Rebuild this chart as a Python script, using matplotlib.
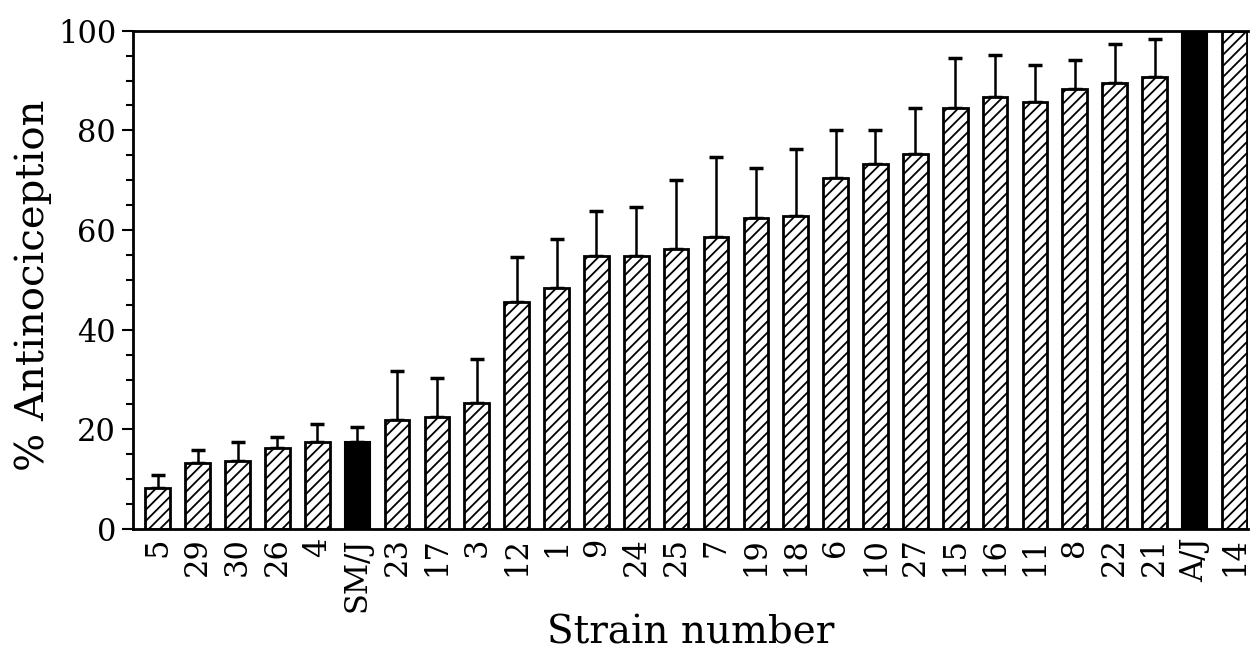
import matplotlib
matplotlib.use("Agg")
import matplotlib.pyplot as plt
import numpy as np

strains = ["5", "29", "30", "26", "4", "SM/J", "23", "17", "3", "12", "1", "9", "24", "25",
           "7", "19", "18", "6", "10", "27", "15", "16", "11", "8", "22", "21", "A/J", "14"]
means = [8.2, 13.2, 13.6, 16.3, 17.5, 17.5, 21.9, 22.4, 25.3, 45.6, 48.4, 54.8, 54.8, 56.3,
         58.6, 62.4, 62.9, 70.5, 73.3, 75.3, 84.5, 86.7, 85.7, 88.4, 89.6, 90.8, 100.0, 100.0]
errors = [2.6, 2.7, 3.8, 2.2, 3.6, 3.0, 9.9, 7.9, 8.9, 9.0, 9.9, 9.0, 9.9, 13.8,
          16.1, 10.1, 13.4, 9.6, 6.8, 9.2, 10.0, 8.5, 7.5, 5.8, 7.8, 7.6, 0.0, 0.0]
parental = ["SM/J", "A/J"]

plt.rcParams['font.family'] = ['DejaVu Serif']
plt.rcParams['hatch.linewidth'] = 1.3

fig = plt.figure(figsize=(12.52, 6.54), dpi=100)
ax = fig.add_axes([0.106, 0.191, 0.891, 0.762])

x = np.arange(len(strains))
for xi, s, m in zip(x, strains, means):
    if s in parental:
        ax.bar(xi, m, width=0.62, color='black', edgecolor='black', linewidth=1.5, zorder=2)
    else:
        ax.bar(xi, m, width=0.62, color='white', edgecolor='black', hatch='///',
               linewidth=2.0, zorder=2)

ax.errorbar(x, means, yerr=[np.zeros(len(errors)), errors], fmt='none', ecolor='black',
            elinewidth=1.8, capsize=5, capthick=2.5, zorder=1)

ax.set_xlim(-0.63, 27.35)
ax.set_ylim(0, 100)
ax.set_yticks([0, 20, 40, 60, 80, 100])
ax.set_yticks(np.arange(0, 101, 5), minor=True)
ax.set_xticks(x)
ax.set_xticklabels(strains, rotation=90, fontsize=22)
ax.tick_params(axis='x', length=0, pad=6)
ax.tick_params(axis='y', which='major', length=8, width=1.5, labelsize=22, pad=4)
ax.tick_params(axis='y', which='minor', length=5, width=1.5)

for side in ['left', 'bottom', 'top']:
    ax.spines[side].set_linewidth(2)
ax.spines['right'].set_visible(False)

ax.set_xlabel("Strain number", fontsize=28, labelpad=2)
ax.set_ylabel("% Antinociception", fontsize=29)
ax.yaxis.set_label_coords(-0.072, 0.49)

fig.savefig("out.png", dpi=100)
